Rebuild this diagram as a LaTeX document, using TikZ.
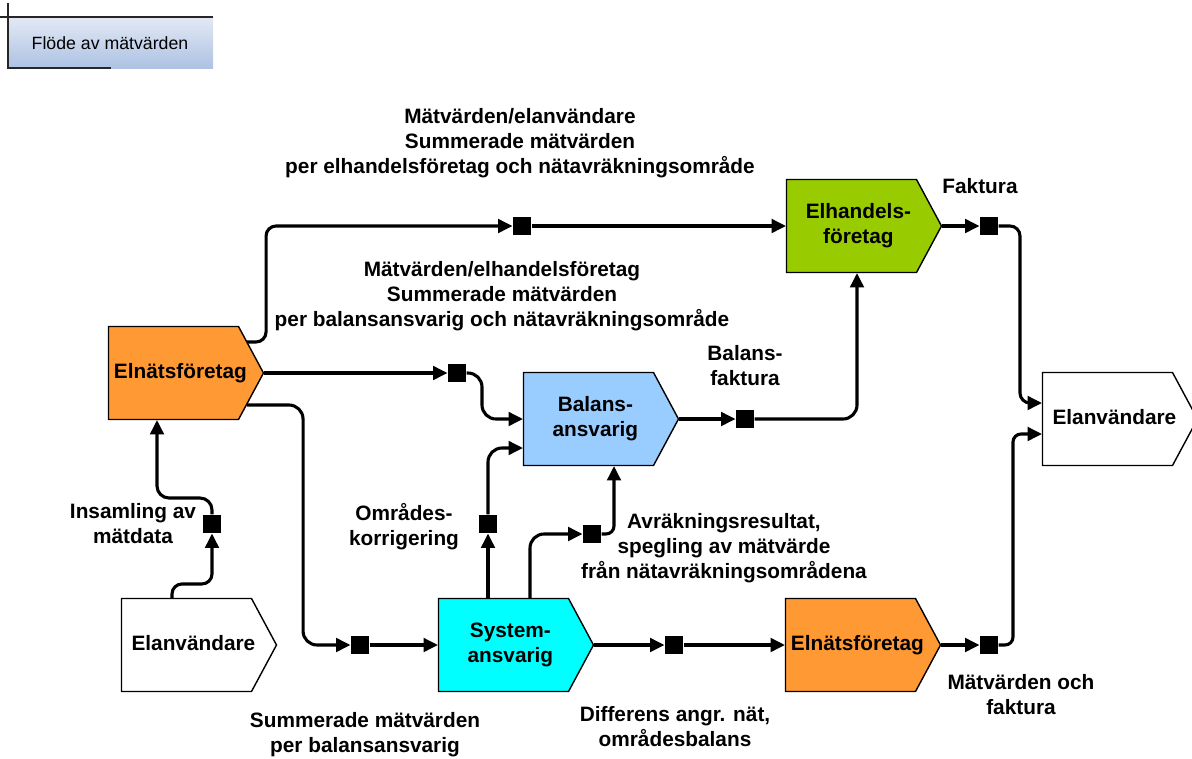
\documentclass[tikz,border=0pt]{standalone}
\usepackage{fontspec}
\setmainfont{Liberation Sans}
\usetikzlibrary{arrows.meta,calc}
\tikzset{every picture/.style={line width=0.75pt}}
\definecolor{orangebox}{HTML}{FF9933}
\definecolor{greenbox}{HTML}{99CC00}
\definecolor{bluebox}{HTML}{99CCFF}
\definecolor{cyanbox}{HTML}{00FFFF}
\definecolor{hdrtop}{HTML}{E2E9F4}
\definecolor{hdrbot}{HTML}{AEC2E4}
\newcommand\lblfont{\fontsize{14.8}{17.8}\selectfont\bfseries}
\newcommand\hdrfont{\fontsize{12.6}{15}\selectfont}

\begin{document}
\begin{tikzpicture}[x=0.025cm, y=-0.025cm, >={Triangle[length=3.6mm,width=3.4mm]},
        box/.style={minimum width=3.875cm, minimum height=2.325cm, inner sep=0pt, font=\lblfont},
        boxline/.style={line width=1pt, draw=black},
        sq/.style={fill=black, minimum size=0.45cm, inner sep=0pt},
        conn/.style={line width=2.2pt, rounded corners=3.5mm},
        lbl/.style={align=center, inner sep=0pt, font=\lblfont}]
    \useasboundingbox (0,0) rectangle (1192,758);
    % rubrik
    \shade[top color=hdrtop, bottom color=hdrbot] (8,17) rectangle (213,68);
    \draw[black!85] (0,17) -- (213,17);
    \draw[black!85] (8,3) -- (8,68) -- (111,68);
    \node[font=\hdrfont] (hdr) at (110,43) {Flöde av mätvärden};
    % aktörer
    \foreach \nm/\cx/\cy/\col/\txt in {
            elnatA/186/373/orangebox/Elnätsföretag,
            elhandel/864/226/greenbox/{Elhandels-\\företag},
            balans/601/419/bluebox/{Balans-\\ansvarig},
            system/516/645/cyanbox/{System-\\ansvarig},
            elnatB/863/645/orangebox/Elnätsföretag,
            elanvA/199/645/white/Elanvändare,
            elanvB/1120/419/white/Elanvändare} {
        \filldraw[fill=\col, boxline] (\cx-77.5,\cy-46.5) -- (\cx+52.5,\cy-46.5) -- (\cx+77.5,\cy)
            -- (\cx+52.5,\cy+46.5) -- (\cx-77.5,\cy+46.5) -- cycle;
        \node[box] (\nm) at (\cx,\cy) {\begin{tabular}{@{}c@{\hspace{0.28cm}}}\txt\end{tabular}};
    }
    % informationsobjekt
    \foreach \nm/\px/\py in {sqA/522/226, sqB/989/226, sqC/457/373, sqD/745/419, sqE/212/524,
            sqF/488/524, sqG/592/534, sqH/360/645, sqI/674/645, sqJ/989/645}
        \node[sq] (\nm) at (\px,\py) {};
    % flöden
    \draw[conn,->,rounded corners=2.5mm] ($(elnatA.east)+(-17,-31)$) -- ++(19,0) |- (sqA);
    \draw[conn,->] (sqA) -- (elhandel);
    \draw[conn,->] (elhandel) -- (sqB);
    \draw[conn,->,rounded corners=2.5mm] (sqB) -- ++(31,0) |- ($(elanvB.west)+(0,-16)$);
    \draw[conn,->] (elnatA) -- (sqC);
    \draw[conn,->] (sqC) -- ++(25,0) |- (balans);
    \draw[conn,->] ($(elnatA.east)+(-17,32)$) -- ++(56,0) |- (sqH);
    \draw[conn,->] (sqH) -- (system);
    \draw[conn,->,rounded corners=2.5mm] ($(elanvA.north)+(-27,0)$) -- ++(0,-14) -| (sqE);
    \draw[conn,->,rounded corners=3mm] (sqE) -- ++(0,-26) -| ($(elnatA.south)+(-29,0)$);
    \draw[conn,->] ($(system.north)+(-28,0)$) -- (sqF);
    \draw[conn,->] (sqF) |- ($(balans.west)+(0,29)$);
    \draw[conn,->] ($(system.north)+(14,0)$) |- (sqG);
    \draw[conn,->,rounded corners=2mm] (sqG) -| ($(balans.south)+(13,0)$);
    \draw[conn,->] (balans) -- (sqD);
    \draw[conn,->] (sqD) -| ($(elhandel.south)+(-7,0)$);
    \draw[conn,->] (system) -- (sqI);
    \draw[conn,->] (sqI) -- (elnatB);
    \draw[conn,->] (elnatB) -- (sqJ);
    \draw[conn,->,rounded corners=2mm] (sqJ) -- ++(24,0) |- ($(elanvB.west)+(0,15)$);
    % etiketter
    \node[lbl] (tMvA) at (520,143) {Mätvärden/elanvändare\\Summerade mätvärden\\per elhandelsföretag och nätavräkningsområde};
    \node[lbl] (tFakt) at (980,186) {Faktura};
    \node[lbl] (tMvB) at (502,296) {Mätvärden/elhandelsföretag\\Summerade mätvärden\\per balansansvarig och nätavräkningsområde};
    \node[lbl] (tBalF) at (745,366) {Balans-\\faktura};
    \node[lbl] (tIns) at (133,524) {Insamling av\\mätdata};
    \node[lbl] (tOmr) at (404,527) {Områdes-\\korrigering};
    \node[lbl] (tAvr) at (724,548) {Avräkningsresultat,\\spegling av mätvärde\\från nätavräkningsområdena};
    \node[lbl] (tSum) at (365,735) {Summerade mätvärden\\per balansansvarig};
    \node[lbl] (tDiff) at (675,727) {Differens angr. nät,\\områdesbalans};
    \node[lbl] (tMvF) at (1021,695) {Mätvärden och\\faktura};
\end{tikzpicture}
\end{document}
